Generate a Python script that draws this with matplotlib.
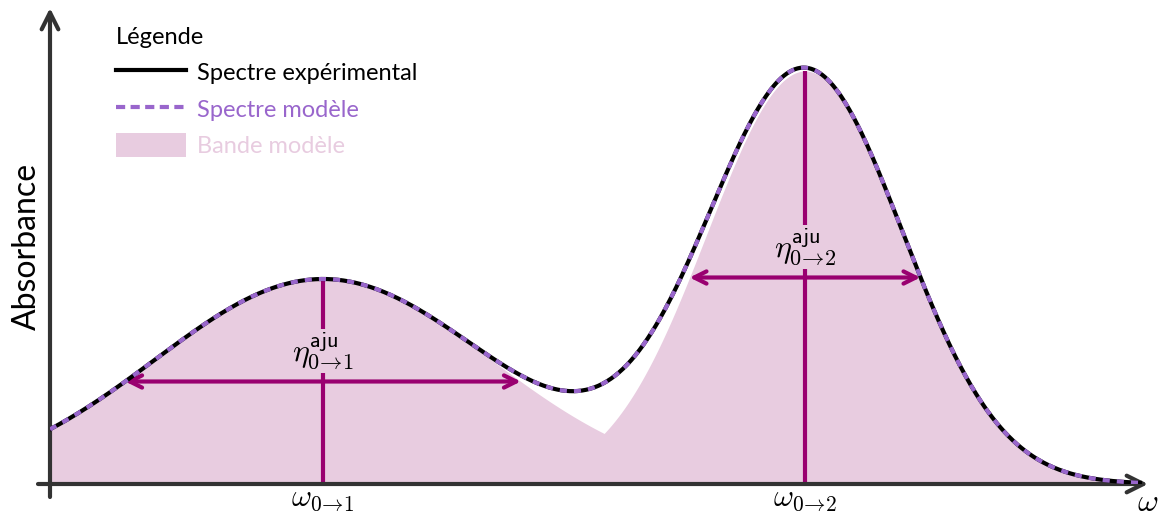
import numpy as np
import matplotlib
matplotlib.use("Agg")
import matplotlib.pyplot as plt
from matplotlib.lines import Line2D
from matplotlib.patches import Patch

plt.rcParams['font.family'] = ['Lato', 'DejaVu Sans']
plt.rcParams['mathtext.fontset'] = 'cm'
plt.rcParams['axes.unicode_minus'] = False

# bandes du modèle (centre, hauteur, largeur sigma) en unités arbitraires
centres = [273, 755]
hauteurs = [205, 413]
sigmas = [168, 98]
labels_omega = [r'$\omega_{0\!\to\!1}$', r'$\omega_{0\!\to\!2}$']
labels_eta = [r'$\eta^{\mathsf{aju}}_{0\!\to\!1}$', r'$\eta^{\mathsf{aju}}_{0\!\to\!2}$']

FILL = '#e8cce0'
PURPLE = '#9966cc'
MAG = '#990070'
AXC = '#333333'

x = np.linspace(0, 1090, 800)
bandes = [h * np.exp(-(x - c) ** 2 / (2 * s ** 2)) for c, h, s in zip(centres, hauteurs, sigmas)]
spectre = bandes[0] + bandes[1]

fig = plt.figure(figsize=(11.63, 5.23), dpi=100)
ax = fig.add_axes([50 / 1163, 39 / 523, 1098 / 1163, 476 / 523])
ax.set_xlim(0, 1098)
ax.set_ylim(0, 476)

for b in bandes:
    ax.fill_between(x, 0, b, color=FILL, lw=0, zorder=1)

# marqueurs de largeur et de position
for c, h, s, lab in zip(centres, hauteurs, sigmas, labels_eta):
    hw = s * np.sqrt(2 * np.log(2))
    ax.plot([c, c], [0, h], color=MAG, lw=3, zorder=2, solid_capstyle='butt')
    ax.annotate('', xy=(c - hw, h / 2), xytext=(c + hw, h / 2),
                arrowprops=dict(arrowstyle='<->', color=MAG, lw=3,
                                mutation_scale=22, shrinkA=0, shrinkB=0),
                zorder=3)
    ax.annotate(lab, xy=(c, h / 2), xytext=(0, 22), textcoords='offset points',
                ha='center', va='center', fontsize=23, zorder=4,
                bbox=dict(facecolor=FILL, edgecolor='none', pad=1))

ax.plot(x, spectre, color='black', lw=3, zorder=5)
ax.plot(x, spectre, color=PURPLE, lw=3, dashes=(1.7, 1.7), zorder=6)

# axes fléchés
for sp in ax.spines.values():
    sp.set_visible(False)
ax.annotate('', xy=(1098, 0), xytext=(-12, 0), annotation_clip=False,
            arrowprops=dict(arrowstyle='->', color=AXC, lw=3, mutation_scale=30,
                            shrinkA=0, shrinkB=0))
ax.annotate('', xy=(0, 476), xytext=(0, -13), annotation_clip=False,
            arrowprops=dict(arrowstyle='->', color=AXC, lw=3, mutation_scale=30,
                            shrinkA=0, shrinkB=0))

ax.set_xticks(centres)
ax.set_xticklabels(labels_omega, fontsize=22)
ax.tick_params(axis='x', length=0, pad=1)
ax.set_yticks([])
ax.set_ylabel('Absorbance', fontsize=23, labelpad=6)
ax.text(1098, -3, r'$\omega$', fontsize=23, ha='center', va='top')

handles = [Line2D([], [], color='black', lw=3),
           Line2D([], [], color=PURPLE, lw=3, dashes=(2.2, 1.3)),
           Patch(facecolor=FILL, edgecolor='none')]
leg = ax.legend(handles, ['Spectre expérimental', 'Spectre modèle', 'Bande modèle'],
                title='Légende', loc='upper left', alignment='left',
                bbox_to_anchor=(116 / 1163, 1 - 27 / 523), bbox_transform=fig.transFigure,
                frameon=False, fontsize=17, title_fontsize=17, handlelength=2.95,
                handleheight=1.2, handletextpad=0.5, labelspacing=0.52,
                borderpad=0, borderaxespad=0)
for t, col in zip(leg.get_texts(), ['black', PURPLE, FILL]):
    t.set_color(col)

fig.savefig('out.png', dpi=100)
